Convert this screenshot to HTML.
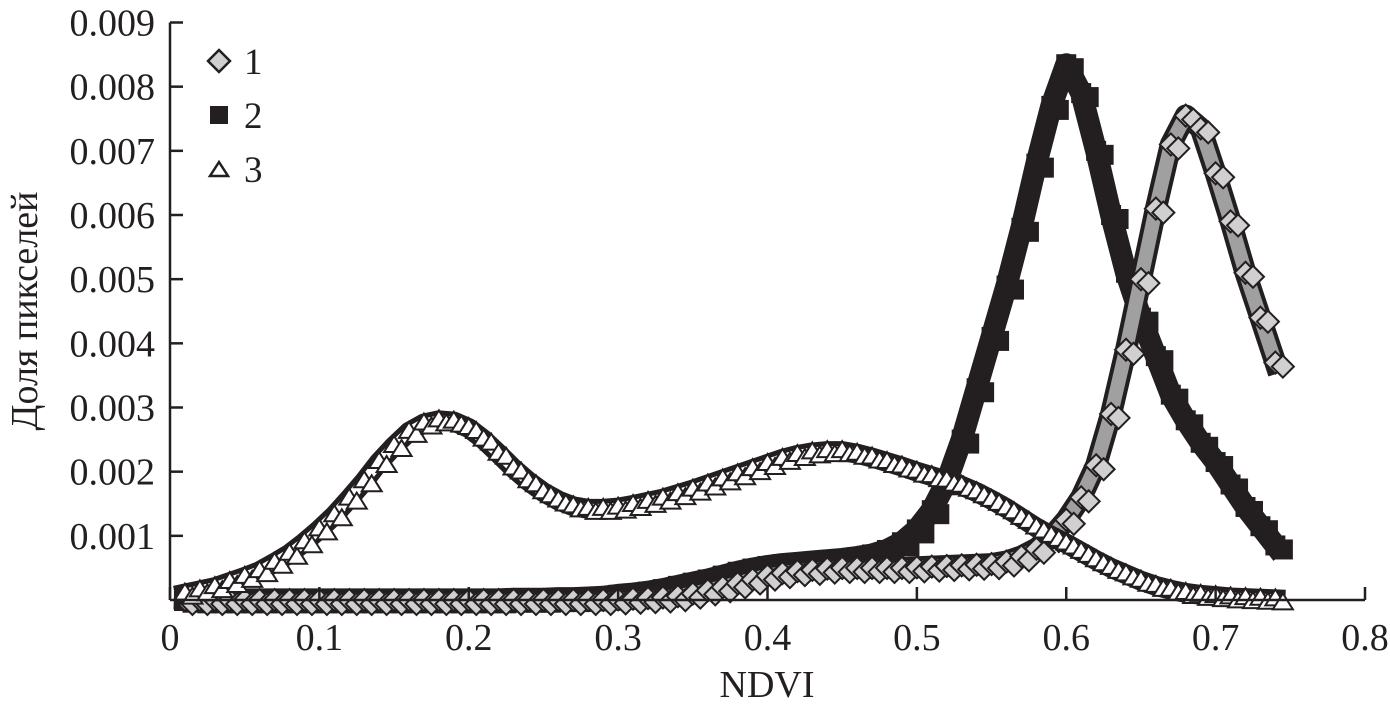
<!DOCTYPE html>
<html><head><meta charset="utf-8"><style>
body{margin:0;background:#fff;}
svg text{font-family:"Liberation Serif",serif;fill:#231f20;}
</style></head><body>
<svg id="chart" width="1390" height="709" viewBox="0 0 1390 709" xmlns="http://www.w3.org/2000/svg">
<g id="series"></g>
<g id="axes"></g>
<g>
  <polygon points="219,50 230,61 219,72 208,61" fill="#d0d0d0" stroke="#231f20" stroke-width="2.5"/>
  <text x="244" y="74" font-size="37">1</text>
  <rect x="210" y="106" width="18" height="18" fill="#231f20"/>
  <text x="244" y="128" font-size="37">2</text>
  <polygon points="219,162 228,176 210,176" fill="#fff" stroke="#231f20" stroke-width="2.5"/>
  <text x="244" y="182" font-size="37">3</text>
</g>
<text x="767" y="697" font-size="38" text-anchor="middle">NDVI</text>
<text transform="translate(37,311) rotate(-90)" font-size="38" text-anchor="middle">Доля пикселей</text>
</svg>
<script>
const xValues = [];
for (let i = 1; i <= 74; i++) xValues.push(i / 100);
const series1 = [0,0,0,0,0,0,0,0,0,0, 0,0,0,0,0,0,0,0,0,0, 0,0,0,0,0,0,0,0,0,0.00001, 0.00002,0.00003,0.00004,0.00006,0.00010,0.00015,0.00020,0.00026,0.00032,0.00038, 0.00042,0.00045,0.00047,0.00049,0.00050,0.00050,0.00050,0.00050,0.00050,0.00051, 0.00052,0.00053,0.00054,0.00055,0.00056,0.00060,0.00068,0.00080,0.00098,0.00125, 0.00160,0.00210,0.00290,0.00390,0.00500,0.00610,0.00710,0.00755,0.00735,0.00665, 0.00590,0.00510,0.00440,0.00370];
const series2 = [0.00002,0.00001,0.00001,0.00001,0.00001,0.00001,0.00001,0.00001,0.00001,0.00001, 0.00001,0.00001,0.00001,0.00001,0.00001,0.00001,0.00001,0.00001,0.00001,0.00001, 0.00001,0.00001,0.00002,0.00002,0.00002,0.00003,0.00003,0.00004,0.00005,0.00008, 0.00010,0.00013,0.00017,0.00022,0.00027,0.00032,0.00038,0.00044,0.00049,0.00053, 0.00056,0.00058,0.00060,0.00062,0.00064,0.00067,0.00071,0.00078,0.00090,0.00110, 0.00140,0.00185,0.00250,0.00330,0.00410,0.00490,0.00580,0.00680,0.00770,0.00835, 0.00790,0.00700,0.00600,0.00510,0.00440,0.00380,0.00320,0.00280,0.00245,0.00215, 0.00180,0.00145,0.00115,0.00085];
const series3 = [0.00010,0.00015,0.00020,0.00028,0.00036,0.00045,0.00058,0.00072,0.00090,0.00110, 0.00132,0.00158,0.00185,0.00215,0.00240,0.00262,0.00275,0.00280,0.00278,0.00268, 0.00250,0.00228,0.00205,0.00185,0.00168,0.00155,0.00146,0.00142,0.00142,0.00144, 0.00148,0.00153,0.00158,0.00165,0.00172,0.00180,0.00188,0.00196,0.00204,0.00212, 0.00220,0.00226,0.00230,0.00232,0.00232,0.00228,0.00222,0.00215,0.00208,0.00200, 0.00193,0.00186,0.00178,0.00168,0.00156,0.00143,0.00128,0.00113,0.00100,0.00088, 0.00075,0.00062,0.00050,0.00040,0.00030,0.00022,0.00016,0.00011,0.00008,0.00006, 0.00004,0.00003,0.00002,0.00001];
const xTicks = [0,0.1,0.2,0.3,0.4,0.5,0.6,0.7,0.8];
const xTickLabels = ["0","0.1","0.2","0.3","0.4","0.5","0.6","0.7","0.8"];
const yTicks = [0.001,0.002,0.003,0.004,0.005,0.006,0.007,0.008,0.009];
const yTickLabels = ["0.001","0.002","0.003","0.004","0.005","0.006","0.007","0.008","0.009"];

const NS = "http://www.w3.org/2000/svg";
const X0 = 170, X1 = 1365, Y0 = 600, Y1 = 22.5;
const sx = v => X0 + (v / 0.8) * (X1 - X0);
const sy = v => Y0 - (v / 0.009) * (Y0 - Y1);
function mk(tag, attrs, parent) {
  const e = document.createElementNS(NS, tag);
  for (const k in attrs) e.setAttribute(k, attrs[k]);
  parent.appendChild(e);
  return e;
}
const axes = document.getElementById('axes');
const ser = document.getElementById('series');

const xa = mk('line', {x1: X0, y1: Y0, x2: X1, y2: Y0, stroke: '#231f20', 'stroke-width': 2.5}, axes);


const ya = mk('line', {x1: X0, y1: Y0, x2: X0, y2: Y1, stroke: '#231f20', 'stroke-width': 2.5}, axes);


xTicks.forEach((t, i) => {
  const tk = mk('line', {x1: sx(t), y1: Y0, x2: sx(t), y2: Y0 - 13, stroke: '#231f20', 'stroke-width': 2.5}, axes);
  
  
  const tx = mk('text', {x: sx(t), y: 650, 'font-size': 38, 'text-anchor': 'middle'}, axes);
  tx.textContent = xTickLabels[i];
  
  
});
yTicks.forEach((t, i) => {
  const tk = mk('line', {x1: X0, y1: sy(t), x2: X0 + 13, y2: sy(t), stroke: '#231f20', 'stroke-width': 2.5}, axes);
  
  
  const tx = mk('text', {x: 155, y: sy(t) + 13, 'font-size': 38, 'text-anchor': 'end'}, axes);
  tx.textContent = yTickLabels[i];
  
  
});

function drawSeries(vals, kind, name, outer, inner) {
  const g = mk('g', {}, ser);
  
  
  const pts = vals.map((v, i) => sx(xValues[i]) + ',' + sy(v)).join(' ');
  const b1 = mk('polyline', {points: pts, fill: 'none', stroke: '#231f20', 'stroke-width': outer, 'stroke-linejoin': 'round', 'stroke-linecap': 'square'}, g);
  
  
  if (inner) {
    const b2 = mk('polyline', {points: pts, fill: 'none', stroke: inner[0], 'stroke-width': inner[1], 'stroke-linejoin': 'round'}, g);
    
    
  }
  vals.forEach((v, i) => {
    const cx = sx(xValues[i]), cy = sy(v);
    for (let d = 0; d < 2; d++) {
      const ox = d * 7.5, oy = d * 4;
      let e;
      const x = cx + ox, y = cy + oy;
      if (kind === 'square') {
        e = mk('rect', {x: x - 10, y: y - 10, width: 20, height: 20, fill: '#231f20'}, g);
      } else if (kind === 'diamond') {
        e = mk('polygon', {points: `${x},${y-11} ${x+11},${y} ${x},${y+11} ${x-11},${y}`, fill: '#d0d0d0', stroke: '#231f20', 'stroke-width': 2}, g);
      } else {
        e = mk('polygon', {points: `${x},${y-10} ${x+10},${y+6} ${x-10},${y+6}`, fill: '#fff', stroke: '#231f20', 'stroke-width': 2}, g);
      }
      
      
    }
  });
}
drawSeries(series2, 'square', 'series-2', 22, null);
drawSeries(series1, 'diamond', 'series-1', 22, ['#a0a0a0', 14]);
drawSeries(series3, 'triangle', 'series-3', 20, ['#ffffff', 10]);
</script>
</body></html>
